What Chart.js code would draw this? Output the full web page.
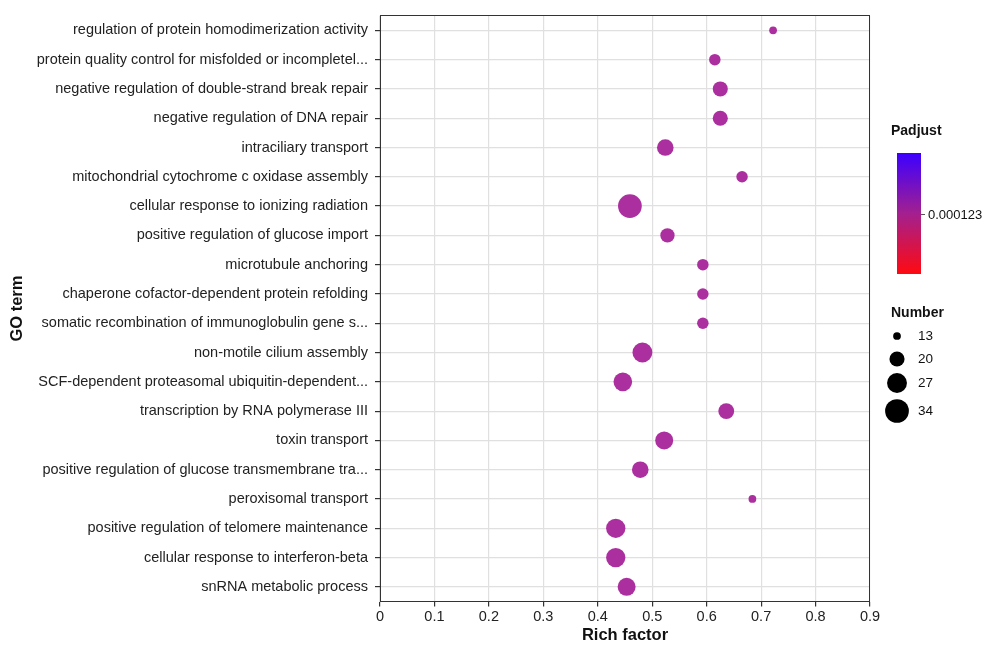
<!DOCTYPE html>
<html>
<head>
<meta charset="utf-8">
<script src="https://cdn.jsdelivr.net/npm/chart.js@4/dist/chart.umd.min.js"></script>
<style>
  html, body { margin: 0; padding: 0; background: #fff; }
  #wrap { width: 984px; height: 645px; }
</style>
</head>
<body>
<div id="wrap"><canvas id="goChart" width="984" height="645"></canvas></div>
<script>
// GO terms, top to bottom
const terms = [
    "regulation of protein homodimerization activity",
    "protein quality control for misfolded or incompletel...",
    "negative regulation of double-strand break repair",
    "negative regulation of DNA repair",
    "intraciliary transport",
    "mitochondrial cytochrome c oxidase assembly",
    "cellular response to ionizing radiation",
    "positive regulation of glucose import",
    "microtubule anchoring",
    "chaperone cofactor-dependent protein refolding",
    "somatic recombination of immunoglobulin gene s...",
    "non-motile cilium assembly",
    "SCF-dependent proteasomal ubiquitin-dependent...",
    "transcription by RNA polymerase III",
    "toxin transport",
    "positive regulation of glucose transmembrane tra...",
    "peroxisomal transport",
    "positive regulation of telomere maintenance",
    "cellular response to interferon-beta",
    "snRNA metabolic process"
];
const richFactor = [0.722, 0.615, 0.625, 0.625, 0.524, 0.665, 0.459, 0.528, 0.593, 0.593,
                    0.593, 0.482, 0.446, 0.636, 0.522, 0.478, 0.684, 0.433, 0.433, 0.453];
const geneCount = [13, 16, 20, 20, 22, 16, 34, 19, 16, 16,
                   16, 27, 25, 21, 24, 22, 13, 26, 26, 24];

const xTicks = [0, 0.1, 0.2, 0.3, 0.4, 0.5, 0.6, 0.7, 0.8, 0.9];
const sizeBreaks = [13, 20, 27, 34];
const padjTick = "0.000123";

const FONT = "'Liberation Sans', Arial, Helvetica, sans-serif";
const DOT = '#ac2f9f';

// point area grows linearly with gene count
function sizeScale(n) {
    return Math.sqrt(60 + 24 * (n - 13)) / 2;
}

const points = terms.map((t, i) => ({ x: richFactor[i], y: t, r: sizeScale(geneCount[i]) }));

// panel border + legends (Padjust colour bar, Number sizes)
const decor = {
    id: 'decor',
    beforeDatasetsDraw(chart) {
        const { ctx, chartArea: a } = chart;
        ctx.save();
        ctx.strokeStyle = '#333';
        ctx.lineWidth = 1;
        ctx.strokeRect(Math.round(a.left) + 0.5, Math.round(a.top) - 0.5,
            Math.round(a.right - a.left) - 1, Math.round(a.bottom - a.top));
        ctx.restore();
    },
    afterDraw(chart) {
        const ctx = chart.ctx;
        ctx.save();
        ctx.fillStyle = '#111';
        ctx.textBaseline = 'middle';
        ctx.textAlign = 'left';

        ctx.font = `bold 14px ${FONT}`;
        ctx.fillText('Padjust', 891, 131);

        const bx = 897, by = 153, bw = 24, bh = 121;
        const g = ctx.createLinearGradient(0, by, 0, by + bh);
        g.addColorStop(0, '#3c00ff');
        g.addColorStop(0.5, '#a3208f');
        g.addColorStop(1, '#ff0a10');
        ctx.fillStyle = g;
        ctx.fillRect(bx, by, bw, bh);

        ctx.strokeStyle = '#555';
        ctx.beginPath();
        ctx.moveTo(bx + bw, 214.5);
        ctx.lineTo(bx + bw + 4, 214.5);
        ctx.stroke();
        ctx.fillStyle = '#111';
        ctx.font = `13px ${FONT}`;
        ctx.fillText(padjTick, 928, 215);

        ctx.font = `bold 14px ${FONT}`;
        ctx.fillText('Number', 891, 313);

        const rowY = [336, 359, 383, 411];
        ctx.font = `13.5px ${FONT}`;
        sizeBreaks.forEach((n, i) => {
            ctx.fillStyle = '#000';
            ctx.beginPath();
            ctx.arc(897, rowY[i], sizeScale(n), 0, Math.PI * 2);
            ctx.fill();
            ctx.fillStyle = '#111';
            ctx.fillText(String(n), 918, rowY[i]);
        });
        ctx.restore();
    }
};

new Chart(document.getElementById('goChart'), {
    type: 'bubble',
    data: {
        datasets: [{
            data: points,
            backgroundColor: DOT,
            borderWidth: 0,
            hoverBorderWidth: 0
        }]
    },
    options: {
        responsive: false,
        animation: false,
        layout: { padding: { top: 15, right: 114, bottom: 0, left: 0 } },
        plugins: { legend: { display: false }, tooltip: { enabled: false } },
        scales: {
            x: {
                type: 'linear',
                min: 0, max: 0.9,
                afterBuildTicks: s => { s.ticks = xTicks.map(v => ({ value: v })); },
                afterFit: s => { s.height = 43.5; },
                grid: { color: '#e0e0e0', lineWidth: 1.2, tickColor: '#333', tickLength: 5 },
                border: { display: false },
                ticks: { color: '#222', padding: 2, font: { size: 14.5, family: FONT },
                         callback: v => String(Math.round(v * 10) / 10) },
                title: { display: true, text: 'Rich factor', color: '#111',
                         font: { size: 16.5, weight: 'bold', family: FONT }, padding: { top: -2, bottom: 0 } }
            },
            y: {
                type: 'category',
                labels: terms,
                offset: true,
                afterFit: s => { s.width = 380; },
                grid: { color: '#e0e0e0', lineWidth: 1.2, tickColor: '#333', tickLength: 5, offset: false },
                border: { display: false },
                ticks: { color: '#222', padding: 7, autoSkip: false, font: { size: 14.5, family: FONT } },
                title: { display: true, text: 'GO term', color: '#111',
                         font: { size: 16.5, weight: 'bold', family: FONT }, padding: { top: 8, bottom: 0 } }
            }
        }
    },
    plugins: [decor]
});
</script>
</body>
</html>
